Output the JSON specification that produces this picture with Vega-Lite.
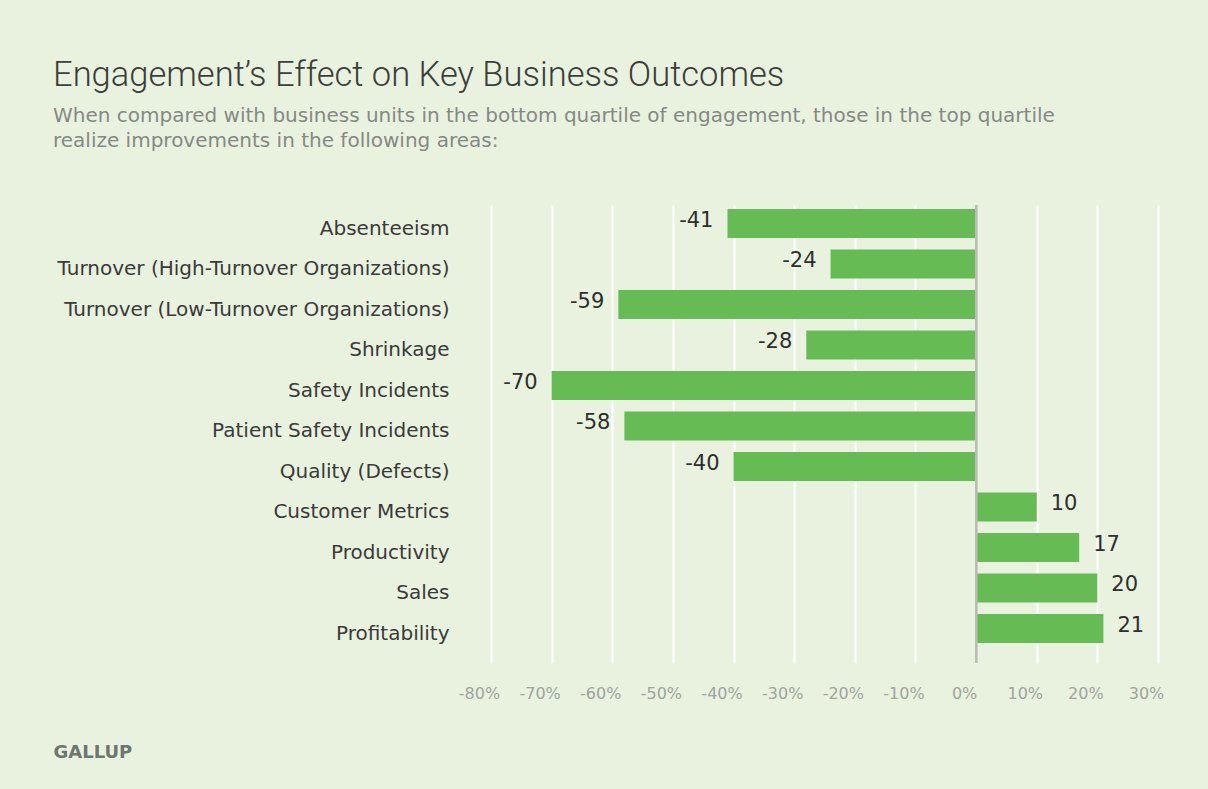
{
  "$schema": "https://vega.github.io/schema/vega-lite/v6.json",
  "width": 667,
  "height": 458,
  "padding": {"left": 53, "top": 57, "right": 50, "bottom": 44},
  "background": "#e9f2df",
  "title": {
    "text": "Engagement’s Effect on Key Business Outcomes",
    "subtitle": ["When compared with business units in the bottom quartile of engagement, those in the top quartile", "realize improvements in the following areas:"],
    "anchor": "start",
    "frame": "bounds",
    "font": "Roboto",
    "fontSize": 34.5,
    "fontWeight": 300,
    "color": "#3b3f3b",
    "subtitleFont": "DejaVu Sans",
    "subtitleFontSize": 20,
    "subtitleFontWeight": "normal",
    "subtitleColor": "#858985",
    "subtitleLineHeight": 25,
    "subtitlePadding": 13,
    "offset": 52
  },
  "data": {
    "values": [
      {"outcome": "Absenteeism", "value": -41},
      {"outcome": "Turnover (High-Turnover Organizations)", "value": -24},
      {"outcome": "Turnover (Low-Turnover Organizations)", "value": -59},
      {"outcome": "Shrinkage", "value": -28},
      {"outcome": "Safety Incidents", "value": -70},
      {"outcome": "Patient Safety Incidents", "value": -58},
      {"outcome": "Quality (Defects)", "value": -40},
      {"outcome": "Customer Metrics", "value": 10},
      {"outcome": "Productivity", "value": 17},
      {"outcome": "Sales", "value": 20},
      {"outcome": "Profitability", "value": 21}
    ]
  },
  "encoding": {
    "y": {
      "field": "outcome",
      "type": "nominal",
      "sort": null,
      "scale": {"paddingInner": 0.284, "paddingOuter": 0.296, "align": 0.17},
      "axis": {
        "title": null,
        "domain": false,
        "ticks": false,
        "labelPadding": 42,
        "labelFont": "DejaVu Sans",
        "labelFontSize": 20,
        "labelColor": "#3a3a3a",
        "labelLimit": 500,
        "labelOffset": 5,
        "minExtent": 438,
        "maxExtent": 438
      }
    }
  },
  "layer": [
    {
      "mark": {"type": "bar", "color": "#66bb55"},
      "encoding": {
        "x": {
          "field": "value",
          "type": "quantitative",
          "scale": {"domain": [-80, 30], "nice": false},
          "axis": {
            "values": [-80, -70, -60, -50, -40, -30, -20, -10, 0, 10, 20, 30],
            "labelExpr": "datum.value + '%'",
            "labelOverlap": false,
            "labelFlush": false,
            "labelBound": false,
            "grid": true,
            "gridColor": "#ffffff",
            "gridWidth": 2,
            "gridOpacity": 1,
            "domain": false,
            "ticks": false,
            "labelPadding": 22,
            "labelOffset": -12,
            "labelFont": "DejaVu Sans",
            "labelFontSize": 16,
            "labelColor": "#a0a3a0",
            "title": "GALLUP",
            "titleX": -438,
            "titleY": 94,
            "titleAlign": "left",
            "titleAnchor": "start",
            "titleBaseline": "alphabetic",
            "titleFont": "DejaVu Sans",
            "titleFontSize": 18,
            "titleFontWeight": "bold",
            "titleColor": "#6f756f"
          }
        }
      }
    },
    {
      "mark": {"type": "rule", "color": "#b9bdb5", "strokeWidth": 2},
      "encoding": {"x": {"datum": 0, "type": "quantitative"}, "y": null}
    },
    {
      "transform": [{"filter": "datum.value < 0"}],
      "mark": {"type": "text", "align": "right", "dx": -14, "dy": -3, "font": "DejaVu Sans", "fontSize": 21, "fontWeight": "normal", "color": "#2e2e2e"},
      "encoding": {
        "x": {"field": "value", "type": "quantitative"},
        "text": {"field": "value", "type": "nominal"}
      }
    },
    {
      "transform": [{"filter": "datum.value > 0"}],
      "mark": {"type": "text", "align": "left", "dx": 14, "dy": -3, "font": "DejaVu Sans", "fontSize": 21, "fontWeight": "normal", "color": "#2e2e2e"},
      "encoding": {
        "x": {"field": "value", "type": "quantitative"},
        "text": {"field": "value", "type": "nominal"}
      }
    }
  ],
  "config": {"view": {"stroke": null}}
}
